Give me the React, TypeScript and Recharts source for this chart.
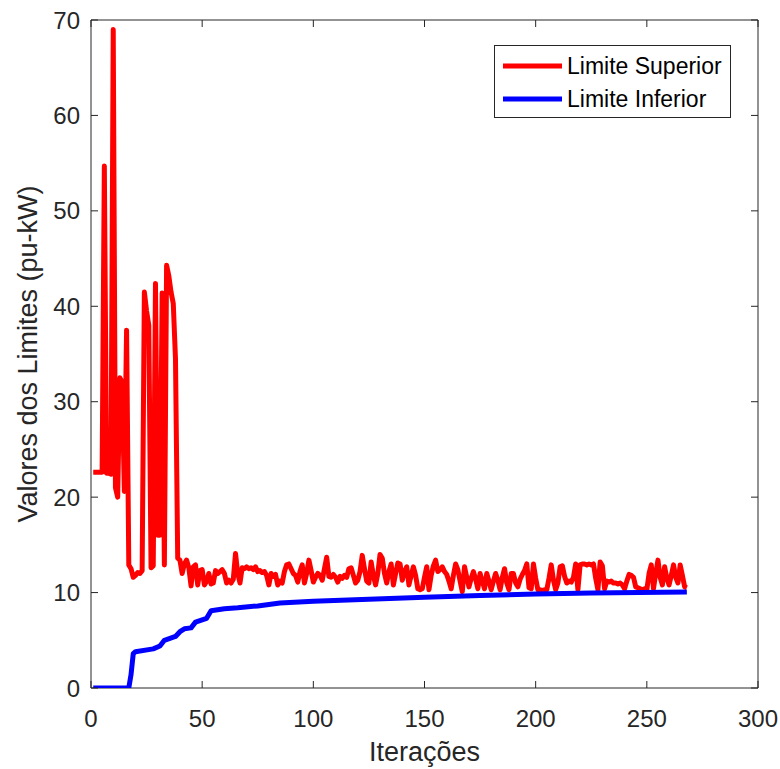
import { Line, LineChart, ReferenceArea, XAxis, YAxis } from "recharts";

// Limite Superior, one value per iteration (1..268)
const limiteSuperior = [
  22.6, 22.6, 22.6, 22.6, 22.6, 54.7, 22.5, 22.5, 22.4, 69.0,
  21.0, 20.0, 32.5, 32.0, 20.6, 37.5, 12.9, 12.5, 11.6, 11.8,
  12.1, 12.0, 12.3, 41.5, 39.5, 38.0, 12.6, 12.8, 42.4, 16.0,
  16.0, 41.4, 12.9, 44.3, 43.2, 41.5, 40.3, 34.5, 13.6, 13.4,
  12.0, 13.0, 13.4, 12.6, 10.7, 12.7, 12.9, 10.8, 12.3, 12.4,
  10.8, 11.2, 12.0, 10.9, 11.0, 12.3, 12.0, 12.2, 12.4, 12.0,
  11.0, 11.3, 11.0, 11.4, 14.1, 12.0, 11.0, 12.6, 12.5, 12.7,
  12.5, 12.6, 12.4, 12.7, 12.2, 12.3, 12.1, 12.2, 11.8, 10.8,
  12.0, 11.7, 11.9, 10.8, 11.2, 11.0, 12.2, 12.9, 13.0, 12.5,
  12.0, 11.8, 11.1, 12.2, 12.9, 11.0, 12.0, 13.4, 12.3, 11.1,
  11.6, 12.0, 11.8, 11.3, 12.5, 13.7, 11.7, 11.6, 11.9, 11.6,
  11.1, 11.7, 11.5, 11.8, 11.6, 12.5, 12.6, 11.8, 11.0, 11.3,
  12.2, 13.9, 12.5, 11.2, 11.0, 13.2, 11.8, 10.8, 12.0, 14.0,
  13.6, 12.0, 11.0, 12.2, 13.0, 10.8, 12.0, 13.1, 13.0, 11.3,
  12.2, 12.7, 10.8, 11.8, 12.7, 11.8, 10.4, 10.3, 10.4, 11.6,
  12.7, 10.3, 11.8, 12.8, 13.4, 12.2, 12.4, 12.7, 12.2, 11.9,
  11.2, 10.4, 11.8, 13.0, 12.4, 11.2, 10.1, 12.7, 11.6, 10.6,
  11.5, 12.2, 11.4, 10.4, 12.0, 11.2, 10.4, 12.0, 11.2, 10.3,
  11.2, 12.0, 11.3, 10.3, 11.6, 12.5, 11.0, 10.3, 12.0, 12.0,
  11.0, 10.6, 11.4, 11.9, 12.3, 13.0, 10.5, 10.4, 13.0, 11.5,
  10.3, 10.3, 10.2, 10.3, 10.3, 11.5, 12.9, 11.3, 10.3, 11.0,
  12.7, 12.8, 11.7, 11.0, 11.2, 11.1, 11.6, 13.0, 10.3, 12.9,
  13.0, 13.0, 12.9, 13.0, 12.9, 13.0, 11.5, 10.3, 13.2, 12.8,
  10.4, 11.2, 11.1, 11.2, 11.0, 11.0, 10.9, 11.0, 10.8, 10.4,
  11.2, 11.9, 11.8, 11.6, 10.6, 10.5, 10.4, 10.3, 10.4, 10.3,
  12.0, 12.9, 10.4, 12.0, 13.4, 11.6, 10.8, 12.7, 11.5, 10.8,
  11.8, 12.9, 11.6, 11.0, 12.9, 11.8, 10.6, 10.5,
];

// Limite Inferior, read at the iterations where the curve changes slope
const inferiorIter = [
  1, 17, 18, 19, 20, 28, 31, 33, 38, 40, 42, 45, 47, 52, 54, 60, 66, 75, 85,
  100, 125, 150, 175, 200, 225, 268,
];
const limiteInferior = [
  0, 0, 1.4, 3.6, 3.8, 4.1, 4.4, 5.0, 5.4, 5.9, 6.2, 6.3, 6.9, 7.3, 8.1, 8.3,
  8.4, 8.6, 8.9, 9.1, 9.3, 9.5, 9.7, 9.85, 9.95, 10.05,
];

const xTicks = [0, 50, 100, 150, 200, 250, 300];
const yTicks = [0, 10, 20, 30, 40, 50, 60, 70];

const superiorData = limiteSuperior.map((v, i) => ({ iter: i + 1, valor: v }));
const inferiorData = inferiorIter.map((it, i) => ({ iter: it, valor: limiteInferior[i] }));

const W = 780;
const H = 769;
const PLOT_LEFT = 91;
const PLOT_RIGHT = 758;
const PLOT_TOP = 20;
const PLOT_BOTTOM = 688;
const TICK_LEN = 7;
const AXIS_COLOR = "#262626";
const FONT = "'Liberation Sans', Arial, Helvetica, sans-serif";

function XTick(props: any) {
  const { x, payload } = props;
  return (
    <g>
      <line x1={x} y1={PLOT_BOTTOM} x2={x} y2={PLOT_BOTTOM - TICK_LEN} stroke={AXIS_COLOR} />
      <line x1={x} y1={PLOT_TOP} x2={x} y2={PLOT_TOP + TICK_LEN} stroke={AXIS_COLOR} />
      <text
        x={x}
        y={PLOT_BOTTOM + 39}
        textAnchor="middle"
        fontSize={24}
        fontFamily={FONT}
        fill={AXIS_COLOR}
      >
        {payload.value}
      </text>
    </g>
  );
}

function YTick(props: any) {
  const { y, payload } = props;
  return (
    <g>
      <line x1={PLOT_LEFT} y1={y} x2={PLOT_LEFT + TICK_LEN} y2={y} stroke={AXIS_COLOR} />
      <line x1={PLOT_RIGHT} y1={y} x2={PLOT_RIGHT - TICK_LEN} y2={y} stroke={AXIS_COLOR} />
      <text
        x={PLOT_LEFT - 11}
        y={y + 8.5}
        textAnchor="end"
        fontSize={24}
        fontFamily={FONT}
        fill={AXIS_COLOR}
      >
        {payload.value}
      </text>
    </g>
  );
}

function LegendBox() {
  const items = [
    { name: "Limite Superior", color: "#ff0000" },
    { name: "Limite Inferior", color: "#0000ff" },
  ];
  return (
    <div
      style={{
        position: "absolute",
        left: 494,
        top: 45,
        width: 237,
        height: 73,
        border: "1px solid #262626",
        background: "#fff",
        boxSizing: "border-box",
        fontFamily: FONT,
        fontSize: 23,
        color: "#000",
      }}
    >
      {items.map((it, i) => (
        <div
          key={it.name}
          style={{
            position: "absolute",
            left: 0,
            top: 4 + i * 33,
            height: 32,
            display: "flex",
            alignItems: "center",
            whiteSpace: "nowrap",
          }}
        >
          <svg width={72} height={32}>
            <line x1={8} y1={16} x2={67} y2={16} stroke={it.color} strokeWidth={5} />
          </svg>
          <span>{it.name}</span>
        </div>
      ))}
    </div>
  );
}

export default function App() {
  return (
    <div style={{ position: "absolute", left: 0, top: 0, width: W, height: H, background: "#fff" }}>
      <LineChart
        width={W}
        height={H}
        margin={{ top: PLOT_TOP, right: W - PLOT_RIGHT, left: PLOT_LEFT - 60, bottom: H - PLOT_BOTTOM - 30 }}
      >
        <XAxis
          dataKey="iter"
          type="number"
          domain={[0, 300]}
          ticks={xTicks}
          allowDataOverflow
          height={30}
          axisLine={false}
          tickLine={false}
          tick={<XTick />}
          interval={0}
        />
        <YAxis
          type="number"
          domain={[0, 70]}
          ticks={yTicks}
          allowDataOverflow
          width={60}
          axisLine={false}
          tickLine={false}
          tick={<YTick />}
          interval={0}
        />
        <ReferenceArea
          x1={0}
          x2={300}
          y1={0}
          y2={70}
          fill="none"
          stroke={AXIS_COLOR}
          strokeWidth={1}
          fillOpacity={0}
        />
        <Line
          data={superiorData}
          dataKey="valor"
          name="Limite Superior"
          type="linear"
          stroke="#ff0000"
          strokeWidth={5}
          strokeLinejoin="round"
          dot={false}
          activeDot={false}
          isAnimationActive={false}
        />
        <Line
          data={inferiorData}
          dataKey="valor"
          name="Limite Inferior"
          type="linear"
          stroke="#0000ff"
          strokeWidth={5}
          strokeLinejoin="round"
          dot={false}
          activeDot={false}
          isAnimationActive={false}
        />
        <text
          x={28}
          y={(PLOT_TOP + PLOT_BOTTOM) / 2}
          transform={`rotate(-90 28 ${(PLOT_TOP + PLOT_BOTTOM) / 2})`}
          textAnchor="middle"
          dominantBaseline="central"
          fontSize={27}
          fontFamily={FONT}
          fill={AXIS_COLOR}
        >
          Valores dos Limites (pu-kW)
        </text>
        <text
          x={(PLOT_LEFT + PLOT_RIGHT) / 2}
          y={761}
          textAnchor="middle"
          fontSize={27}
          fontFamily={FONT}
          fill={AXIS_COLOR}
        >
          Iterações
        </text>
      </LineChart>
      <LegendBox />
    </div>
  );
}
